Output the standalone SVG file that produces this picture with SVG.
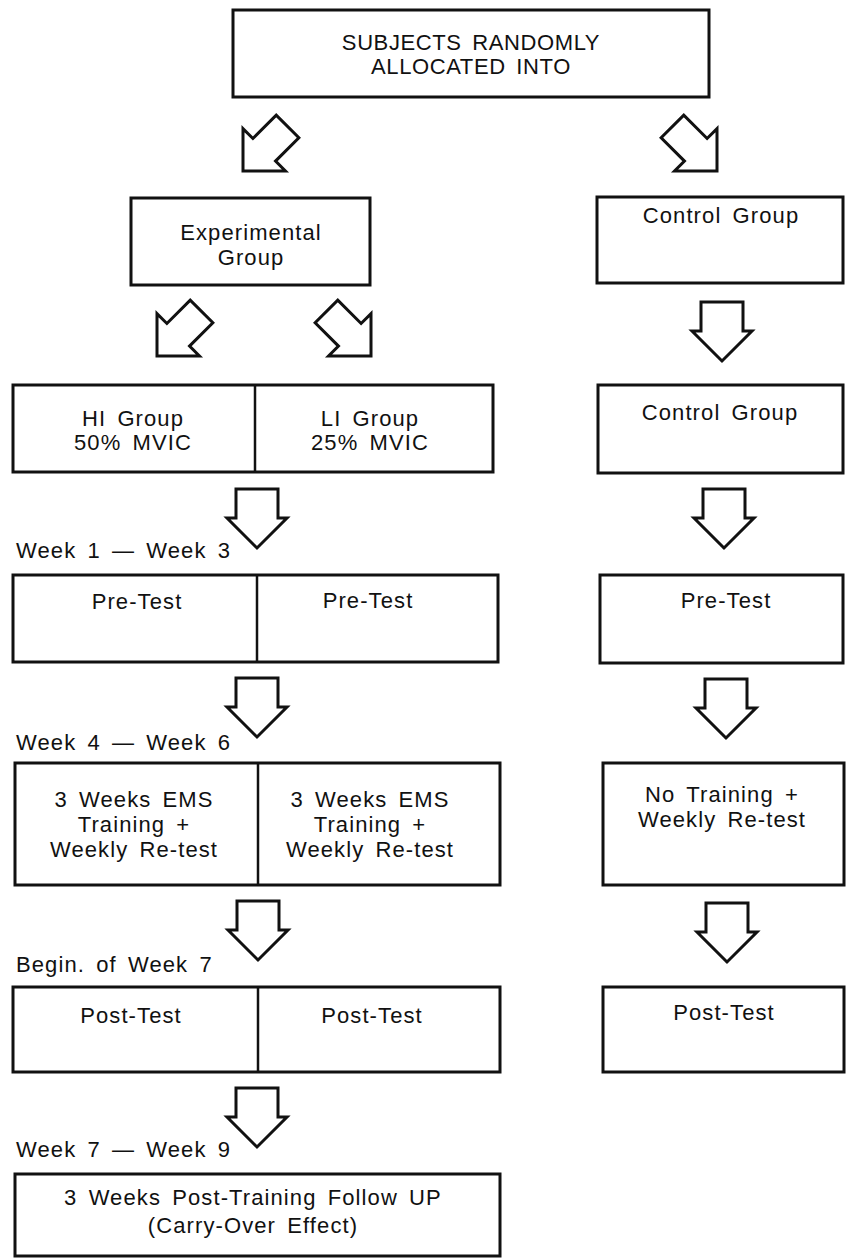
<svg xmlns="http://www.w3.org/2000/svg" width="848" height="1259" viewBox="0 0 848 1259">
<style>
.box{fill:#fff;stroke:#111;stroke-width:3}
.div{stroke:#111;stroke-width:2.5}
.arr{fill:#fff;stroke:#111;stroke-width:3;stroke-linejoin:miter}
text{font-family:"Liberation Sans",Arial,Helvetica,sans-serif;font-size:22px;fill:#111;letter-spacing:1.1px;word-spacing:4px}
.c{text-anchor:middle}
.caps{letter-spacing:0.6px}
</style>
<defs>
<polygon id="down" points="0,0 -30,-30 -21,-30 -21,-59 21,-59 21,-30 30,-30"/>
<polygon id="diag" points="0,0 -30,-30 -16,-30 -16,-63 16,-63 16,-30 30,-30"/>
</defs>
<rect width="848" height="1259" fill="#fff"/>

<g id="connectors">
<use href="#diag" class="arr" transform="translate(243,171) rotate(45)"/>
<use href="#diag" class="arr" transform="translate(717,171) rotate(-45)"/>
<use href="#diag" class="arr" transform="translate(157,356) rotate(45)"/>
<use href="#diag" class="arr" transform="translate(371,356) rotate(-45)"/>
<use href="#down" class="arr" transform="translate(257,548)"/>
<use href="#down" class="arr" transform="translate(257,737)"/>
<use href="#down" class="arr" transform="translate(258,960)"/>
<use href="#down" class="arr" transform="translate(257,1147)"/>
<use href="#down" class="arr" transform="translate(722,361)"/>
<use href="#down" class="arr" transform="translate(724,548)"/>
<use href="#down" class="arr" transform="translate(726,738)"/>
<use href="#down" class="arr" transform="translate(727,962)"/>
</g>

<g id="subjects">
<rect class="box" x="233" y="10" width="476" height="87"/>
<text class="c caps" x="471" y="50">SUBJECTS RANDOMLY</text>
<text class="c caps" x="471" y="74">ALLOCATED INTO</text>
</g>

<g id="experimental">
<rect class="box" x="131" y="198" width="239" height="87"/>
<text class="c" x="251" y="240">Experimental</text>
<text class="c" x="251" y="265">Group</text>
</g>

<g id="control1">
<rect class="box" x="597" y="197" width="246" height="86"/>
<text class="c" x="721" y="223">Control Group</text>
</g>

<g id="groups">
<rect class="box" x="13" y="385" width="480" height="87"/>
<line class="div" x1="255" y1="385" x2="255" y2="472"/>
<text class="c" x="133" y="426">HI Group</text>
<text class="c" x="133" y="450">50% MVIC</text>
<text class="c" x="370" y="426">LI Group</text>
<text class="c" x="370" y="450">25% MVIC</text>
</g>

<g id="control2">
<rect class="box" x="598" y="385" width="245" height="88"/>
<text class="c" x="720" y="420">Control Group</text>
</g>

<text x="16" y="558">Week 1 — Week 3</text>

<g id="pretest">
<rect class="box" x="13" y="575" width="485" height="87"/>
<line class="div" x1="257" y1="575" x2="257" y2="662"/>
<text class="c" x="137" y="609">Pre-Test</text>
<text class="c" x="368" y="608">Pre-Test</text>
</g>

<g id="control-pretest">
<rect class="box" x="600" y="575" width="243" height="88"/>
<text class="c" x="726" y="608">Pre-Test</text>
</g>

<text x="16" y="750">Week 4 — Week 6</text>

<g id="training">
<rect class="box" x="15" y="763" width="485" height="122"/>
<line class="div" x1="258" y1="763" x2="258" y2="885"/>
<text class="c" x="134" y="807">3 Weeks EMS</text>
<text class="c" x="134" y="832">Training +</text>
<text class="c" x="134" y="857">Weekly Re-test</text>
<text class="c" x="370" y="807">3 Weeks EMS</text>
<text class="c" x="370" y="832">Training +</text>
<text class="c" x="370" y="857">Weekly Re-test</text>
</g>

<g id="control-training">
<rect class="box" x="603" y="763" width="241" height="122"/>
<text class="c" x="722" y="802">No Training +</text>
<text class="c" x="722" y="827">Weekly Re-test</text>
</g>

<text x="16" y="972">Begin. of Week 7</text>

<g id="posttest">
<rect class="box" x="13" y="987" width="487" height="85"/>
<line class="div" x1="258" y1="987" x2="258" y2="1072"/>
<text class="c" x="131" y="1023">Post-Test</text>
<text class="c" x="372" y="1023">Post-Test</text>
</g>

<g id="control-posttest">
<rect class="box" x="603" y="987" width="241" height="85"/>
<text class="c" x="724" y="1020">Post-Test</text>
</g>

<text x="16" y="1157">Week 7 — Week 9</text>

<g id="followup">
<rect class="box" x="15" y="1174" width="485" height="82"/>
<text class="c" x="253" y="1205">3 Weeks Post-Training Follow UP</text>
<text class="c" x="253" y="1233">(Carry-Over Effect)</text>
</g>
</svg>
